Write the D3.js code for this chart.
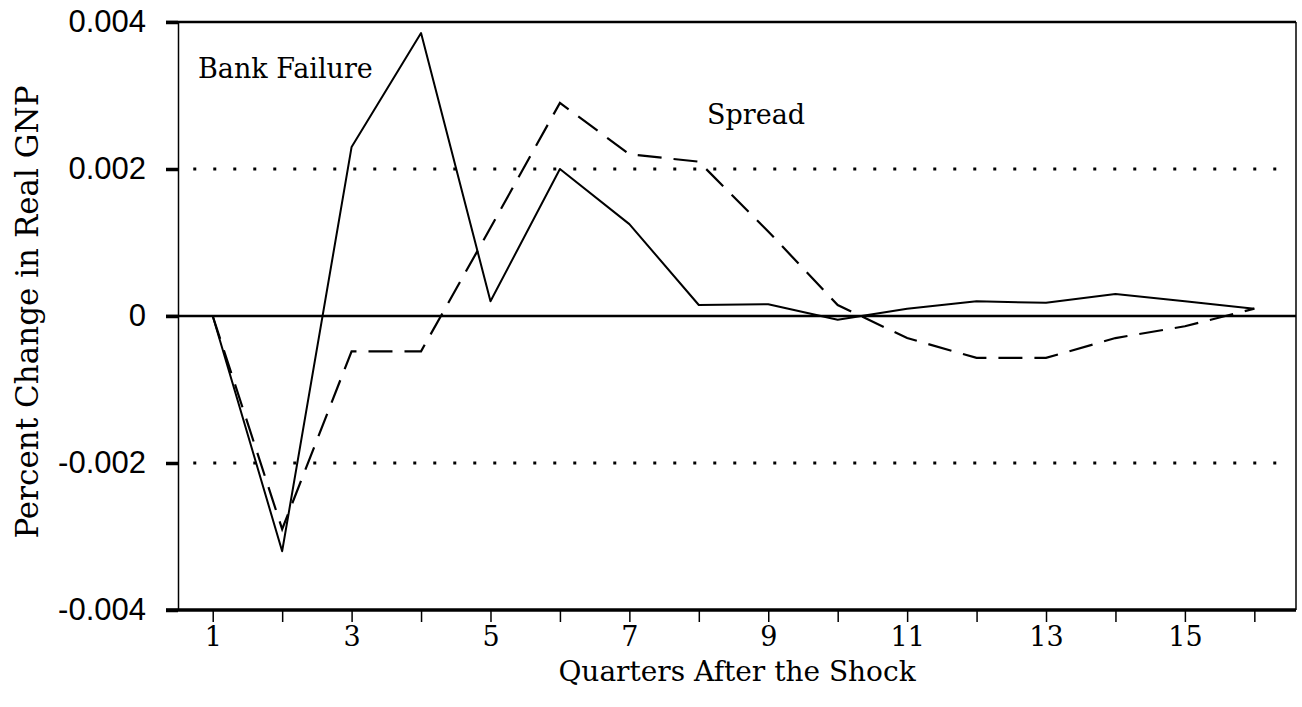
<!DOCTYPE html>
<html>
<head>
<meta charset="utf-8">
<script src="https://cdn.jsdelivr.net/npm/d3@7"></script>
<style>
  body { margin: 0; background: #fff; }
  svg { display: block; }
</style>
</head>
<body>
<div id="chart"></div>
<script>
// Data
const quarters = d3.range(1, 17)
const bankFailure = [0, -0.0032, 0.0023, 0.00385, 0.0002, 0.002, 0.00125, 0.00015,
  0.00016, -0.00005, 0.0001, 0.0002, 0.00018, 0.0003, 0.0002, 0.0001]
const spread = [0, -0.0029, -0.00048, -0.00048, 0.0012, 0.0029, 0.0022, 0.0021,
  0.00115, 0.00015, -0.0003, -0.00057, -0.00057, -0.0003, -0.00014, 0.0001]
const yTicks = [-0.004, -0.002, 0, 0.002, 0.004]
const yTickLabels = ['-0.004', '-0.002', '0', '0.002', '0.004']
const refLines = [-0.002, 0.002]

const dimensions = {
  width: 1302,
  height: 707,
  left: 178,
  right: 1296,
  top: 22,
  bottom: 610,
}

const svg = d3.select('#chart')
  .append('svg')
  .attr('width', dimensions.width)
  .attr('height', dimensions.height)

svg.append('rect')
  .attr('width', dimensions.width)
  .attr('height', dimensions.height)
  .attr('fill', '#fff')

// Scales
const x = d3.scaleLinear()
  .domain([0.5, 16.6])
  .range([dimensions.left, dimensions.right])

const y = d3.scaleLinear()
  .domain([-0.004, 0.004])
  .range([dimensions.bottom, dimensions.top])

// dotted reference lines at +/-0.002
svg.append('g')
  .selectAll('line')
  .data(refLines)
  .join('line')
  .attr('x1', x(0.72))
  .attr('x2', dimensions.right - 10)
  .attr('y1', d => y(d))
  .attr('y2', d => y(d))
  .attr('stroke', '#000')
  .attr('stroke-width', 3)
  .attr('stroke-dasharray', '3,17')

// zero line
svg.append('line')
  .attr('x1', dimensions.left - 12)
  .attr('x2', dimensions.right)
  .attr('y1', y(0))
  .attr('y2', y(0))
  .attr('stroke', '#000')
  .attr('stroke-width', 2.5)

// frame
svg.append('line')
  .attr('x1', dimensions.left - 12).attr('x2', dimensions.right)
  .attr('y1', dimensions.top).attr('y2', dimensions.top)
  .attr('stroke', '#000').attr('stroke-width', 2.5)
svg.append('line')
  .attr('x1', dimensions.right).attr('x2', dimensions.right)
  .attr('y1', dimensions.top).attr('y2', dimensions.bottom)
  .attr('stroke', '#000').attr('stroke-width', 1.5)

// Axes
const xAxis = d3.axisBottom(x)
  .tickValues(quarters)
  .tickSize(12)
  .tickSizeOuter(0)
  .tickPadding(5)
  .tickFormat(d => d % 2 ? d : '')

const yAxis = d3.axisLeft(y)
  .tickValues(yTicks)
  .tickSize(12)
  .tickSizeOuter(0)
  .tickPadding(20)
  .tickFormat((d, i) => yTickLabels[i])

const xg = svg.append('g')
  .attr('transform', `translate(0, ${dimensions.bottom})`)
  .call(xAxis)
xg.select('.domain')
  .attr('d', `M${dimensions.left - 12},0H${dimensions.right}`)
  .attr('stroke-width', 3.5)
xg.selectAll('.tick line').attr('stroke-width', 1.5)
xg.selectAll('.tick text')
  .attr('font-family', '"DejaVu Serif", serif')
  .attr('font-size', 27)
  .attr('fill', '#000')

const yg = svg.append('g')
  .attr('transform', `translate(${dimensions.left}, 0)`)
  .call(yAxis)
yg.select('.domain').attr('stroke-width', 1.5)
yg.selectAll('.tick line').attr('stroke-width', 3.5)
yg.selectAll('.tick text')
  .attr('font-family', '"Liberation Sans", Arial, sans-serif')
  .attr('font-size', 31)
  .attr('fill', '#000')

// Lines
const line = d3.line()
  .x((d, i) => x(quarters[i]))
  .y(d => y(d))

svg.append('path')
  .datum(bankFailure)
  .attr('d', line)
  .attr('fill', 'none')
  .attr('stroke', '#000')
  .attr('stroke-width', 2)
  .attr('stroke-linejoin', 'round')

svg.append('path')
  .datum(spread)
  .attr('d', line)
  .attr('fill', 'none')
  .attr('stroke', '#000')
  .attr('stroke-width', 2.2)
  .attr('stroke-dasharray', '24,12')

// Labels
const serif = '"DejaVu Serif", serif'
svg.append('text')
  .attr('x', 198).attr('y', 78)
  .attr('font-family', serif).attr('font-size', 27)
  .text('Bank Failure')
svg.append('text')
  .attr('x', 707).attr('y', 124)
  .attr('font-family', serif).attr('font-size', 27)
  .text('Spread')

svg.append('text')
  .attr('x', (dimensions.left + dimensions.right) / 2)
  .attr('y', 681)
  .attr('text-anchor', 'middle')
  .attr('font-family', serif).attr('font-size', 28)
  .text('Quarters After the Shock')

svg.append('text')
  .attr('transform', `translate(38, 312) rotate(-90)`)
  .attr('text-anchor', 'middle')
  .attr('font-family', serif).attr('font-size', 31)
  .text('Percent Change in Real GNP')
</script>
</body>
</html>
